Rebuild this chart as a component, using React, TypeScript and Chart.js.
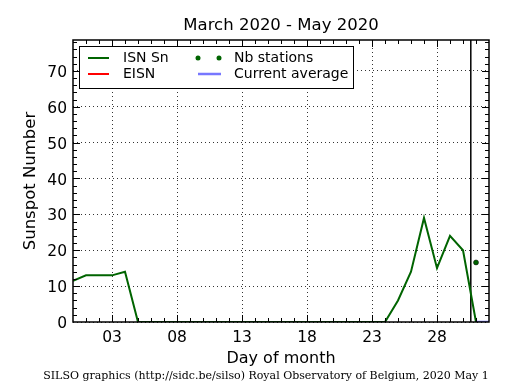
import React, { useEffect, useRef } from 'react';
import { Chart, registerables } from 'chart.js';

Chart.register(...registerables);

// ---- data ----
const days = [0, 1, 2, 3, 4, 5, 6, 7, 8, 9, 10, 11, 12, 13, 14, 15, 16, 17, 18, 19, 20, 21, 22, 23, 24, 25, 26, 27, 28, 29, 30, 31];
const isnSn = [11.5, 13, 13, 13, 14, 0, 0, 0, 0, 0, 0, 0, 0, 0, 0, 0, 0, 0, 0, 0, 0, 0, 0, 0, 0, 6, 14, 29, 15, 24, 20, 0];
const eisnDays: number[] = [];
const eisnValues: number[] = [];
const nbStationDays = [31];
const nbStationValues = [16.6];
const averageDays = [31, 32];
const averageValues = [0, 0];
const markerDay = 30.6;

const xMin = 0;
const xMax = 32;
const yMin = 0;
const yMax = 78.6;
const xTickValues = [3, 8, 13, 18, 23, 28];
const xTickLabels = ['03', '08', '13', '18', '23', '28'];
const yTickValues = [0, 10, 20, 30, 40, 50, 60, 70];
const yTickLabels = ['0', '10', '20', '30', '40', '50', '60', '70'];

const titleText = 'March 2020 - May 2020';
const xTitle = 'Day of month';
const yTitle = 'Sunspot Number';
const footerText = 'SILSO graphics (http://sidc.be/silso) Royal Observatory of Belgium, 2020 May 1';
const legendLabels = ['ISN Sn', 'EISN', 'Nb stations', 'Current average'];

const GREEN = '#006400';
const RED = '#ff0000';
const BLUE = '#7777ff';
const FONT = "'DejaVu Sans', sans-serif";

const decorPlugin = {
  id: 'decor',
  afterDraw(chart: any) {
    const ctx = chart.ctx as CanvasRenderingContext2D;
    const area = chart.chartArea;
    const xs = chart.scales.x;
    const ys = chart.scales.y;
    ctx.save();

    // inward ticks (minor + major), mirrored on both sides
    ctx.strokeStyle = '#000';
    ctx.lineWidth = 1;
    ctx.beginPath();
    for (let d = Math.ceil(xMin) + 1; d < xMax; d++) {
      const major = xTickValues.includes(d);
      const len = major ? 7 : 4;
      const px = Math.round(xs.getPixelForValue(d)) + 0.5;
      ctx.moveTo(px, area.bottom);
      ctx.lineTo(px, area.bottom - len);
      ctx.moveTo(px, area.top);
      ctx.lineTo(px, area.top + len);
    }
    for (let v = yMin + 2; v < yMax; v += 2) {
      const major = yTickValues.includes(v);
      const len = major ? 7 : 4;
      const py = Math.round(ys.getPixelForValue(v)) + 0.5;
      ctx.moveTo(area.left, py);
      ctx.lineTo(area.left + len, py);
      ctx.moveTo(area.right, py);
      ctx.lineTo(area.right - len, py);
    }
    ctx.stroke();

    // frame
    ctx.lineWidth = 1.5;
    ctx.strokeRect(area.left, area.top, area.right - area.left, area.bottom - area.top);

    // title
    ctx.fillStyle = '#000';
    ctx.font = `16.5px ${FONT}`;
    ctx.textAlign = 'center';
    ctx.textBaseline = 'middle';
    ctx.fillText(titleText, (area.left + area.right) / 2, 26);

    // footer
    ctx.font = `11px 'DejaVu Serif', serif`;
    ctx.fillText(footerText, 266, 376);

    // legend
    const lx = 79.5, ly = 46.5, lw = 274, lh = 42;
    ctx.fillStyle = '#fff';
    ctx.fillRect(lx, ly, lw, lh);
    ctx.strokeStyle = '#000';
    ctx.lineWidth = 1;
    ctx.strokeRect(lx, ly, lw, lh);
    const row1 = 58, row2 = 74;
    ctx.lineWidth = 2;
    ctx.strokeStyle = GREEN;
    ctx.beginPath(); ctx.moveTo(88, row1); ctx.lineTo(109, row1); ctx.stroke();
    ctx.strokeStyle = RED;
    ctx.beginPath(); ctx.moveTo(88, row2); ctx.lineTo(109, row2); ctx.stroke();
    ctx.fillStyle = GREEN;
    [198, 219].forEach((cx) => { ctx.beginPath(); ctx.arc(cx, row1, 2.5, 0, Math.PI * 2); ctx.fill(); });
    ctx.strokeStyle = BLUE;
    ctx.lineWidth = 2.5;
    ctx.beginPath(); ctx.moveTo(198, row2); ctx.lineTo(221, row2); ctx.stroke();
    ctx.fillStyle = '#000';
    ctx.font = `14px ${FONT}`;
    ctx.textAlign = 'left';
    ctx.fillText(legendLabels[0], 123, row1 + 0.5);
    ctx.fillText(legendLabels[1], 123, row2 + 0.5);
    ctx.fillText(legendLabels[2], 234, row1 + 0.5);
    ctx.fillText(legendLabels[3], 234, row2 + 0.5);
    ctx.restore();
  },
};

export default function App() {
  const ref = useRef<HTMLCanvasElement>(null);
  useEffect(() => {
    const canvas = ref.current!;
    const chart = new Chart(canvas, {
      type: 'line',
      data: {
        datasets: [
          {
            label: legendLabels[0],
            data: days.map((d, i) => ({ x: d, y: isnSn[i] })),
            borderColor: GREEN,
            borderWidth: 2,
            pointRadius: 0,
            tension: 0,
          },
          {
            label: legendLabels[1],
            data: eisnDays.map((d, i) => ({ x: d, y: eisnValues[i] })),
            borderColor: RED,
            borderWidth: 2,
            pointRadius: 0,
          },
          {
            label: legendLabels[2],
            data: nbStationDays.map((d, i) => ({ x: d, y: nbStationValues[i] })),
            borderColor: GREEN,
            backgroundColor: GREEN,
            showLine: false,
            pointRadius: 2.5,
            pointBorderWidth: 0.5,
            pointBorderColor: '#000',
          },
          {
            label: legendLabels[3],
            data: averageDays.map((d, i) => ({ x: d, y: averageValues[i] })),
            borderColor: BLUE,
            borderWidth: 2.5,
            pointRadius: 0,
          },
          {
            label: 'marker',
            data: [{ x: markerDay, y: yMin }, { x: markerDay, y: yMax }],
            borderColor: '#000',
            borderWidth: 1.5,
            pointRadius: 0,
          },
        ],
      },
      options: {
        responsive: false,
        animation: false,
        events: [],
        layout: { padding: { top: 40, right: 26, left: 0, bottom: 0 } },
        plugins: {
          legend: { display: false },
          title: { display: false },
          tooltip: { enabled: false },
        },
        scales: {
          x: {
            type: 'linear',
            min: xMin,
            max: xMax,
            afterBuildTicks: (scale: any) => {
              scale.ticks = xTickValues.map((v) => ({ value: v }));
            },
            afterFit: (scale: any) => {
              scale.height = 68;
            },
            ticks: {
              autoSkip: false,
              maxRotation: 0,
              padding: 7,
              color: '#000',
              font: { family: FONT, size: 15.5 },
              callback: (v: any) => xTickLabels[xTickValues.indexOf(Number(v))] ?? '',
            },
            grid: { color: '#000', lineWidth: 0.8, drawTicks: false },
            border: { display: false, dash: [1, 3] },
            title: {
              display: true,
              text: xTitle,
              color: '#000',
              font: { family: FONT, size: 16 },
              padding: { top: 0, bottom: 22 },
            },
          },
          y: {
            type: 'linear',
            min: yMin,
            max: yMax,
            afterBuildTicks: (scale: any) => {
              scale.ticks = yTickValues.map((v) => ({ value: v }));
            },
            afterFit: (scale: any) => {
              scale.width = 73;
            },
            ticks: {
              autoSkip: false,
              padding: 6,
              labelOffset: 2,
              color: '#000',
              font: { family: FONT, size: 15.5 },
              callback: (v: any) => yTickLabels[yTickValues.indexOf(Number(v))] ?? '',
            },
            grid: { color: '#000', lineWidth: 0.8, drawTicks: false },
            border: { display: false, dash: [1, 3] },
            title: {
              display: true,
              text: yTitle,
              color: '#000',
              font: { family: FONT, size: 16.5 },
              padding: { top: 21.1, bottom: 0 },
            },
          },
        },
      },
      plugins: [decorPlugin],
    } as any);
    return () => chart.destroy();
  }, []);
  return (
    <canvas
      ref={ref}
      width={515}
      height={390}
      style={{ position: 'fixed', left: 0, top: 0, width: 515, height: 390, background: '#fff' }}
    />
  );
}
